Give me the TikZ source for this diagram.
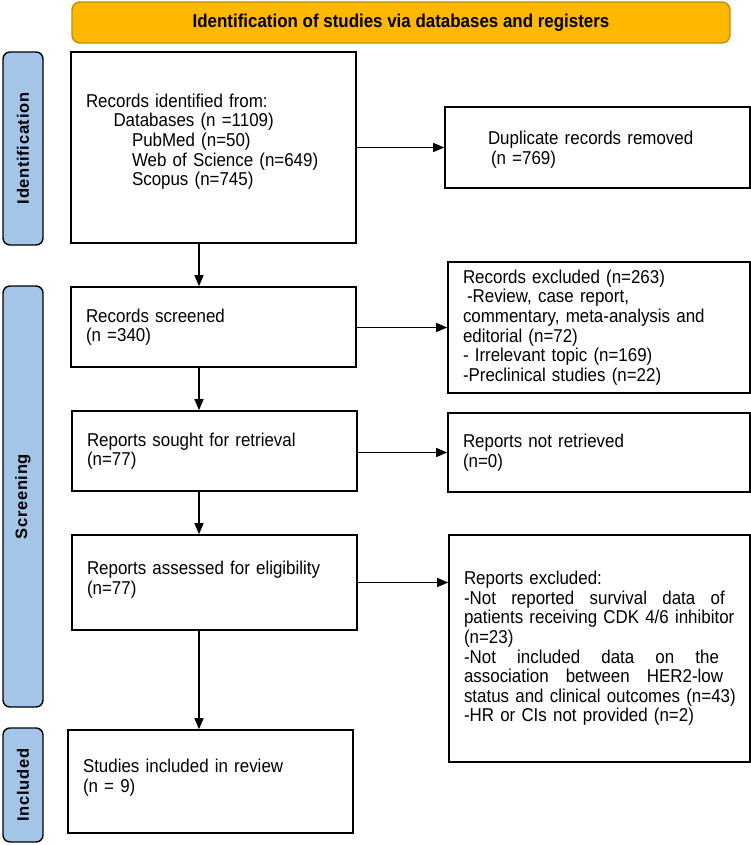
\documentclass[tikz,border=0pt]{standalone}
\usepackage{fontspec}
\setmainfont{Liberation Sans}[FakeStretch=0.91]
\newfontfamily\sidefont[LetterSpace=4]{Liberation Sans}
\usetikzlibrary{positioning, arrows.meta}
\definecolor{bannerorange}{RGB}{255,183,0}
\definecolor{bannerline}{RGB}{196,140,0}
\definecolor{phaseblue}{RGB}{164,196,232}
\newcommand{\gap}{ \hspace{0pt plus 1fil}}

\tikzset{
  box/.style={draw, line width=1.6pt, fill=white, align=left, inner xsep=15pt,
    font=\fontsize{18.6}{19.6}\selectfont},
  phase/.style={draw, line width=1.4pt, fill=phaseblue, rounded corners=7pt,
    minimum height=40pt, rotate=90, font=\sidefont\bfseries\fontsize{16.5}{17}\selectfont},
  flow/.style={-{Triangle[length=11pt,width=9pt]}, line width=1.2pt},
}

\begin{document}
\begin{tikzpicture}[x=1pt, y=-1pt]
  \useasboundingbox (0,0) rectangle (751,845);

  % Banner
  \node[draw=bannerline, line width=1.4pt, fill=bannerorange, rounded corners=8pt,
    minimum width=658pt, minimum height=41pt, font=\bfseries\fontsize{18.6}{19}\selectfont]
    (banner) at (401,22.5) {Identification of studies via databases and registers};

  % Phase labels
  \node[phase, minimum width=193pt] (idphase) at (23,148.5) {Identification};
  \node[phase, minimum width=421pt] (scphase) at (23,496.5) {Screening};
  \node[phase, minimum width=114pt] (inphase) at (23,785) {Included};

  % Main column
  \node[box, minimum width=285pt, minimum height=191pt, text width=255pt] (rec) at (213.5,147.5)
    {Records identified from:\\
     \hspace*{27.5pt}Databases (n =1109)\\
     \hspace*{46pt}PubMed (n=50)\\
     \hspace*{46pt}Web of Science (n=649)\\
     \hspace*{46pt}Scopus (n=745)\\[-4pt]\mbox{}};
  \node[box, minimum width=285pt, minimum height=80pt, text width=255pt] (scr) at (213.5,327)
    {Records screened\\(n =340)};
  \node[box, minimum width=285pt, minimum height=80pt, text width=255pt] (sought) at (214.5,451)
    {Reports sought for retrieval\\(n=77)};
  \node[box, minimum width=285pt, minimum height=95pt, text width=255pt] (elig) at (214.5,582.5)
    {Reports assessed for eligibility\\(n=77)\\[-10pt]\mbox{}};
  \node[box, minimum width=285pt, minimum height=103pt, text width=255pt] (incl) at (210.5,781.5)
    {Studies included in review\\(n = 9)\\[-8pt]\mbox{}};

  % Excluded column
  \node[box, minimum width=305pt, minimum height=81pt, text width=275pt] (dup) at (597.5,147.5)
    {\mbox{}\\[-2pt]
     \hspace*{28pt}Duplicate records removed\\
     \hspace*{31pt}(n =769)};
  \node[box, minimum width=302pt, minimum height=131pt, text width=272pt] (excl) at (599,327.5)
    {Records excluded (n=263)\\
     \hspace*{4pt}-Review, case report,\\
     commentary, meta-analysis and\\
     editorial (n=72)\\
     - Irrelevant topic (n=169)\\
     -Preclinical studies (n=22)};
  \node[box, minimum width=302pt, minimum height=79pt, text width=272pt] (notret) at (599,452.5)
    {Reports not retrieved\\(n=0)};
  \node[box, minimum width=301pt, minimum height=227pt, text width=271pt] (repexcl) at (599.5,648.5)
    {Reports excluded:\\
     \makebox[270pt][l]{-Not\gap reported\gap survival\gap data\gap of}\\
     \makebox[270pt][l]{patients\gap receiving\gap CDK\gap 4/6\gap inhibitor}\\
     (n=23)\\
     \makebox[270pt][l]{-Not\gap included\gap data\gap on\gap the}\\
     \makebox[270pt][l]{association\gap between\gap HER2-low}\\
     \makebox[270pt][l]{status\gap and\gap clinical\gap outcomes\gap (n=43)}\\
     -HR or CIs not provided (n=2)};

  % Connectors
  \coordinate (spine) at (199,0);
  \draw[flow] (rec.south -| spine) -- (scr.north -| spine);
  \draw[flow] (scr.south -| spine) -- (sought.north -| spine);
  \draw[flow] (sought.south -| spine) -- (elig.north -| spine);
  \draw[flow] (elig.south -| spine) -- (incl.north -| spine);
  \draw[flow] (rec.east |- dup.west) -- (dup.west);
  \draw[flow] (scr.east |- excl.west) -- (excl.west);
  \draw[flow] (sought.east |- notret.west) -- (notret.west);
  \draw[flow] (elig.east) -- (elig.east -| repexcl.west);
\end{tikzpicture}
\end{document}
